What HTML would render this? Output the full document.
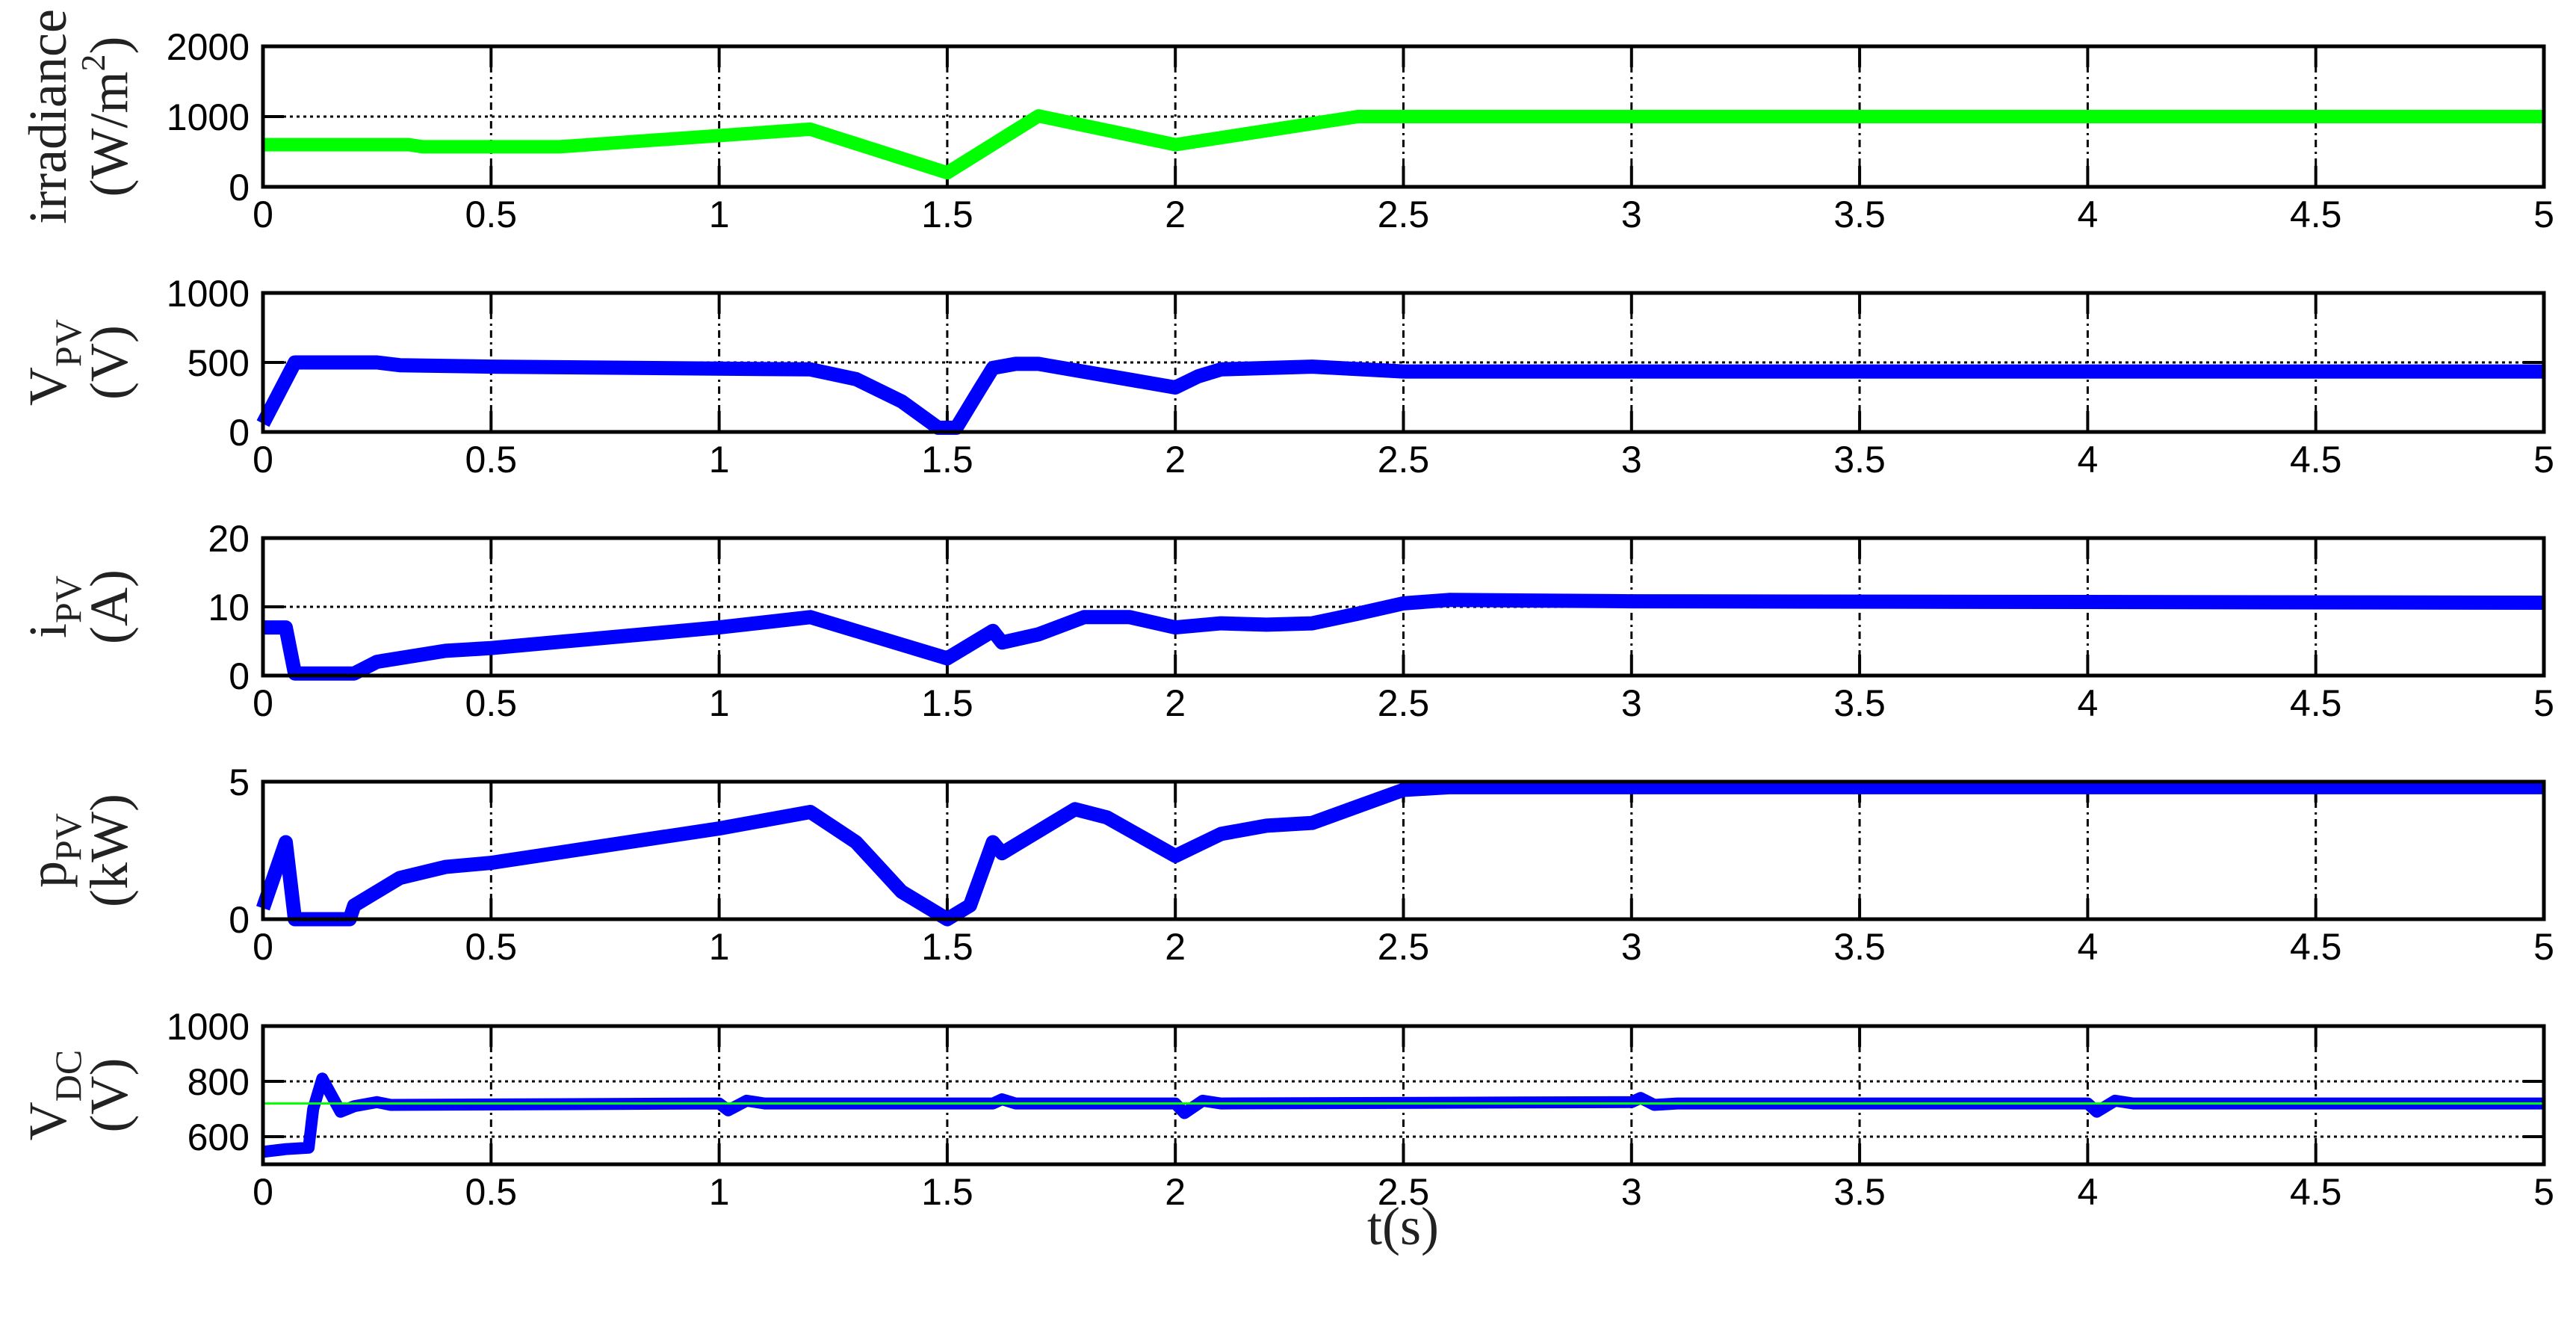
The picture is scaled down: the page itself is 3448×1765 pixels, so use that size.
<!DOCTYPE html>
<html><head><meta charset="utf-8"><style>
html,body{margin:0;padding:0;background:#fff}
svg{display:block}
.tk{font-family:"Liberation Sans",sans-serif;font-size:50px;fill:#000}
.yl{font-family:"Liberation Serif",serif;font-size:72px;fill:#222}
</style></head><body>
<svg id="fig" width="3448" height="1765" viewBox="0 0 3448 1765" xmlns="http://www.w3.org/2000/svg"></svg>
<script>
// x axis
const xTicks=[0,0.5,1,1.5,2,2.5,3,3.5,4,4.5,5];
const xTickLabels=["0","0.5","1","1.5","2","2.5","3","3.5","4","4.5","5"];
// irradiance (W/m2)
const irrT=[0,0.32,0.35,0.65,1.2,1.5,1.7,2.0,2.4,5];
const irrV=[600,600,570,570,820,200,1010,600,1000,1000];
// V_PV (V)
const vpvT=[0,0.07,0.25,0.3,0.5,1.2,1.3,1.4,1.48,1.52,1.57,1.6,1.65,1.7,2.0,2.05,2.1,2.3,2.5,5];
const vpvV=[60,500,500,480,470,450,380,220,30,30,300,460,490,490,320,400,450,470,435,435];
// i_PV (A)
const ipvT=[0,0.05,0.07,0.2,0.25,0.4,0.5,1.0,1.2,1.5,1.6,1.62,1.7,1.8,1.9,2.0,2.1,2.2,2.3,2.4,2.5,2.6,3,5];
const ipvV=[7,7,0.3,0.3,2,3.6,4,7,8.5,2.5,6.5,4.8,6,8.5,8.5,7,7.6,7.4,7.6,9,10.5,11,10.8,10.6];
// p_PV (kW)
const ppvT=[0,0.05,0.07,0.19,0.2,0.3,0.4,0.5,1.0,1.2,1.3,1.4,1.5,1.55,1.6,1.62,1.7,1.78,1.85,2.0,2.1,2.2,2.3,2.4,2.5,2.6,5];
const ppvV=[0.4,2.8,0,0,0.5,1.5,1.9,2.05,3.3,3.9,2.8,1.0,0,0.5,2.8,2.4,3.2,4.0,3.7,2.3,3.1,3.4,3.5,4.1,4.7,4.8,4.8];
// V_DC (V)
const vdcT=[0,0.05,0.1,0.11,0.13,0.15,0.17,0.2,0.25,0.28,1.0,1.02,1.06,1.1,1.6,1.62,1.65,2.0,2.02,2.06,2.1,3.0,3.02,3.05,3.1,4.0,4.02,4.06,4.1,5];
const vdcV=[545,555,560,700,810,750,690,710,725,715,720,695,730,720,720,735,720,720,685,730,720,725,740,715,720,720,690,730,720,720];
const vdcRefT=[0,5];
const vdcRefV=[720,720];

const NS="http://www.w3.org/2000/svg";
const svg=document.getElementById('fig');
const X0=352,X1=3405;
function xs(t){return X0+(t/5)*(X1-X0);}
function mk(tag,attrs,parent){const e=document.createElementNS(NS,tag);for(const k in attrs)e.setAttribute(k,attrs[k]);(parent||svg).appendChild(e);return e;}

const panels=[
 {name:'irradiance',top:62,h:188,ymin:0,ymax:2000,ticks:[0,1000,2000],grid:[1000],series:[{t:irrT,v:irrV,c:'#00ff00',w:18}],lab:['irradiance','(W/m','2',')']},
 {name:'vpv',top:392,h:186,ymin:0,ymax:1000,ticks:[0,500,1000],grid:[500],series:[{t:vpvT,v:vpvV,c:'#0000ff',w:19}],lab:['V','PV','(V)']},
 {name:'ipv',top:720,h:184,ymin:0,ymax:20,ticks:[0,10,20],grid:[10],series:[{t:ipvT,v:ipvV,c:'#0000ff',w:19}],lab:['i','PV','(A)']},
 {name:'ppv',top:1046,h:184,ymin:0,ymax:5,ticks:[0,5],grid:[],series:[{t:ppvT,v:ppvV,c:'#0000ff',w:19}],lab:['p','PV','(kW)']},
 {name:'vdc',top:1373,h:185,ymin:500,ymax:1000,ticks:[600,800,1000],grid:[600,800],series:[{t:vdcT,v:vdcV,c:'#0000ff',w:16},{t:vdcRefT,v:vdcRefV,c:'#00ff00',w:3}],lab:['V','DC','(V)']}
];

panels.forEach(p=>{
 const g=mk('g',{});
 
 
 const ys=v=>p.top+p.h-(v-p.ymin)/(p.ymax-p.ymin)*p.h;
 const bot=p.top+p.h;
 xTicks.forEach((t,i)=>{
  if(i>0&&i<xTicks.length-1){
   const l=mk('line',{x1:xs(t),x2:xs(t),y1:p.top,y2:bot,stroke:'#000','stroke-width':3,'stroke-dasharray':'10 6 3 6'},g);
   
   
   mk('line',{x1:xs(t),x2:xs(t),y1:p.top,y2:p.top+28,stroke:'#000','stroke-width':4},g);
   mk('line',{x1:xs(t),x2:xs(t),y1:bot-28,y2:bot,stroke:'#000','stroke-width':4},g);
  }
  const tx=mk('text',{x:xs(t),y:bot+54,'text-anchor':'middle',class:'tk'},g);
  tx.textContent=xTickLabels[i];
  
  
 });
 p.grid.forEach(v=>{
  const l=mk('line',{x1:X0,x2:X1,y1:ys(v),y2:ys(v),stroke:'#000','stroke-width':3,'stroke-dasharray':'4 5'},g);
  
  
  mk('line',{x1:X0,x2:X0+28,y1:ys(v),y2:ys(v),stroke:'#000','stroke-width':4},g);
  mk('line',{x1:X1-28,x2:X1,y1:ys(v),y2:ys(v),stroke:'#000','stroke-width':4},g);
 });
 p.ticks.forEach(v=>{
  const tx=mk('text',{x:334,y:ys(v)+18,'text-anchor':'end',class:'tk'},g);
  tx.textContent=String(v);
  
  
 });
 p.series.forEach(s=>{
  const pts=s.t.map((t,i)=>xs(t).toFixed(1)+','+ys(s.v[i]).toFixed(1)).join(' ');
  const pl=mk('polyline',{points:pts,fill:'none',stroke:s.c,'stroke-width':s.w,'stroke-linejoin':'round','stroke-linecap':'butt'},g);
  
  
 });
 const fr=mk('rect',{x:X0,y:p.top,width:X1-X0,height:p.h,fill:'none',stroke:'#000','stroke-width':5},g);
 
 
 const cy=p.top+p.h/2;
 const t1=mk('text',{transform:`translate(88,${cy}) rotate(-90)`,'text-anchor':'middle',class:'yl'},g);
 
 
 if(p.name==='irradiance'){
  t1.textContent=p.lab[0];
  const t2=mk('text',{transform:`translate(170,${cy}) rotate(-90)`,'text-anchor':'middle',class:'yl'},g);
  
  
  const a=mk('tspan',{},t2);a.textContent=p.lab[1];
  const b=mk('tspan',{dy:-30,'font-size':46},t2);b.textContent=p.lab[2];
  const c=mk('tspan',{dy:30},t2);c.textContent=p.lab[3];
 } else {
  const a=mk('tspan',{},t1);a.textContent=p.lab[0];
  const b=mk('tspan',{dy:20,'font-size':50},t1);b.textContent=p.lab[1];
  const t2=mk('text',{transform:`translate(170,${cy}) rotate(-90)`,'text-anchor':'middle',class:'yl'},g);
  t2.textContent=p.lab[2];
  
  
 }
});
const xt=mk('text',{x:1878,y:1665,'text-anchor':'middle',class:'yl'});
xt.textContent='t(s)';


</script>
</body></html>
